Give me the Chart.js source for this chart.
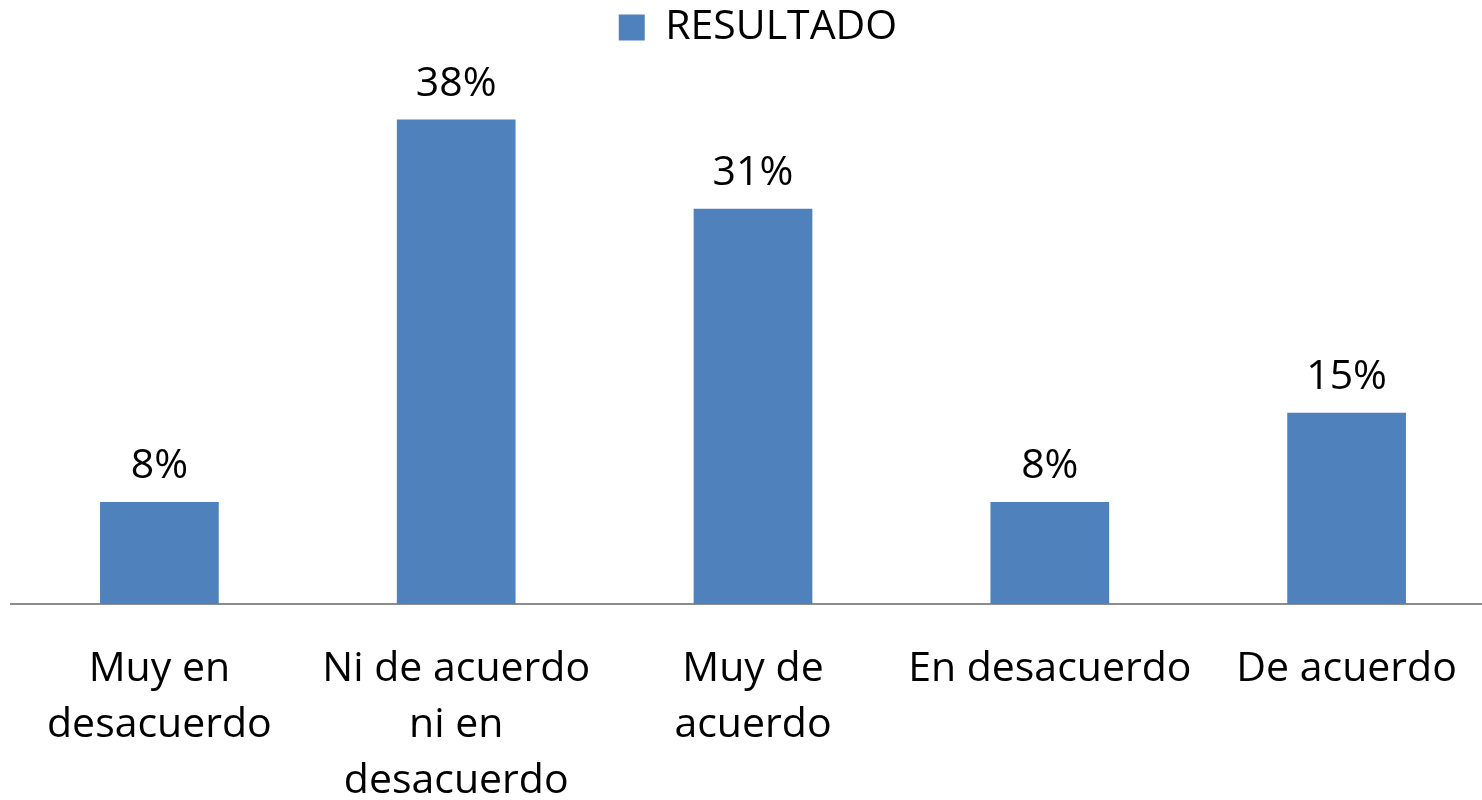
<!DOCTYPE html>
<html>
<head>
<meta charset="utf-8">
<script src="https://cdn.jsdelivr.net/npm/chart.js@4.4.1/dist/chart.umd.min.js"></script>
<style>
  html, body { margin: 0; padding: 0; background: #fff; overflow: hidden; }
  #wrap { width: 1495px; height: 800px; }
</style>
</head>
<body>
<div id="wrap"><canvas id="cnvs_bar"></canvas></div>
<script>
const categories = [
  ['Muy en', 'desacuerdo'],
  ['Ni de acuerdo', 'ni en', 'desacuerdo'],
  ['Muy de', 'acuerdo'],
  'En desacuerdo',
  'De acuerdo'
];
const resultado = [8, 38, 31, 8, 15];
const seriesName = 'RESULTADO';

const FONT = '"Open Sans", sans-serif';

// draws the % labels on top of each bar
const barLabels = {
  id: 'barLabels',
  afterDatasetsDraw(chart) {
    const ctx = chart.ctx;
    const meta = chart.getDatasetMeta(0);
    ctx.save();
    ctx.font = '41px ' + FONT;
    ctx.fillStyle = '#000';
    ctx.textAlign = 'center';
    ctx.textBaseline = 'alphabetic';
    meta.data.forEach(function(bar, i) {
      ctx.fillText(resultado[i] + '%', bar.x, bar.y - 24);
    });
    ctx.restore();
  }
};

// legend sits a bit right of centre and leaves a gap above the plot
const legendTweak = {
  id: 'legendTweak',
  beforeInit(chart) {
    const legend = chart.legend;
    const fit = legend.fit;
    legend.fit = function() {
      fit.call(this);
      this.height = 94;
    };
  },
  afterLayout(chart) {
    chart.legend.left += 5;
    chart.legend.right += 5;
  }
};

const ctx = document.getElementById('cnvs_bar').getContext('2d');
new Chart(ctx, {
  type: 'bar',
  data: {
    labels: categories,
    datasets: [{
      label: seriesName,
      data: resultado,
      backgroundColor: '#4F81BD',
      borderWidth: 0,
      barPercentage: 0.4,
      categoryPercentage: 1
    }]
  },
  options: {
    responsive: true,
    maintainAspectRatio: false,
    animation: false,
    layout: { padding: { left: 11, right: 0, top: 0, bottom: 0 } },
    plugins: {
      tooltip: { enabled: false },
      legend: {
        display: true,
        position: 'top',
        labels: {
          color: '#000',
          font: { family: FONT, size: 41 },
          boxWidth: 26,
          boxHeight: 26,
          padding: 7,
          useBorderRadius: false
        }
      }
    },
    scales: {
      x: {
        grid: { display: false, drawTicks: false },
        border: { display: true, color: '#8c8c8c', width: 2 },
        ticks: {
          color: '#000',
          font: { family: FONT, size: 41, lineHeight: 1.37 },
          maxRotation: 0,
          autoSkip: false,
          padding: 37
        },
        afterFit(scale) {
          scale.height = 196;
        }
      },
      y: {
        display: false,
        min: 0,
        max: 40
      }
    }
  },
  plugins: [barLabels, legendTweak]
});
</script>
</body>
</html>
